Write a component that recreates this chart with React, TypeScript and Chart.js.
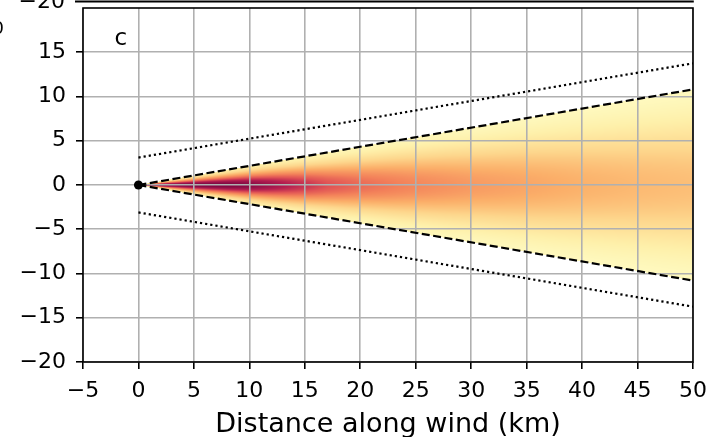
import React, { useEffect, useRef } from "react";
import { Chart, registerables } from "chart.js";

Chart.register(...registerables);

// ---- data ----
const xTickValues = [-5, 0, 5, 10, 15, 20, 25, 30, 35, 40, 45, 50];
const yTickValues = [-20, -15, -10, -5, 0, 5, 10, 15];
const xLimits = [-5, 50];
const yLimits = [-20, 20];

const sourcePoint = [{ x: 0, y: 0 }];
const edgeDistance = [0, 50];
const plumeEdgeUpper = [0, 10.8];
const plumeEdgeLower = [0, -10.8];
const envelopeUpper = [3.1, 13.75];
const envelopeLower = [-3.1, -13.75];

// centre-line concentration level (0..1 of the colour scale) along the wind
const profileDistance = [0, 2, 5, 8, 10, 12, 15, 17, 20, 25, 30, 35, 40, 45, 50];
const profileLevel = [1, 1, 1, 0.99, 0.96, 0.9, 0.8, 0.73, 0.66, 0.58, 0.52, 0.48, 0.44, 0.41, 0.39];
const profileSpread = 0.5; // crosswind sigma as a fraction of the plume half-width

const colormapPositions = [0, 0.15, 0.3, 0.45, 0.6, 0.72, 0.85, 1];
const colormapColors = ["#ffffcc", "#fef0aa", "#fdd68c", "#fbaf69", "#f3825a", "#e15555", "#b41e50", "#780541"];

const panelLabel = "c";
const xTitle = "Distance along wind (km)";

// ---- helpers ----
function interp(xs: number[], ys: number[], x: number): number {
  if (x <= xs[0]) return ys[0];
  if (x >= xs[xs.length - 1]) return ys[ys.length - 1];
  for (let i = 1; i < xs.length; i++) {
    if (x <= xs[i]) {
      const t = (x - xs[i - 1]) / (xs[i] - xs[i - 1]);
      return ys[i - 1] + t * (ys[i] - ys[i - 1]);
    }
  }
  return ys[ys.length - 1];
}
function hexToRgb(h: string) {
  const n = parseInt(h.slice(1), 16);
  return [(n >> 16) & 255, (n >> 8) & 255, n & 255];
}
const cmapRgb = colormapColors.map(hexToRgb);
function cmap(v: number) {
  v = Math.max(0, Math.min(1, v));
  for (let i = 1; i < colormapPositions.length; i++) {
    if (v <= colormapPositions[i]) {
      const t = (v - colormapPositions[i - 1]) / (colormapPositions[i] - colormapPositions[i - 1]);
      const a = cmapRgb[i - 1], b = cmapRgb[i];
      return [a[0] + t * (b[0] - a[0]), a[1] + t * (b[1] - a[1]), a[2] + t * (b[2] - a[2])];
    }
  }
  return cmapRgb[cmapRgb.length - 1];
}
const fmt = (v: number) => (v < 0 ? "\u2212" + Math.abs(v) : String(v));
const FONT = "'DejaVu Sans', sans-serif";

const heatmapPlugin = {
  id: "heatmap",
  beforeDraw(chart: any) {
    const { ctx, chartArea, scales } = chart;
    const xs = scales.x, ys = scales.y;
    const w = Math.round(chartArea.right - chartArea.left);
    const h = Math.round(chartArea.bottom - chartArea.top);
    const off = document.createElement("canvas");
    off.width = w; off.height = h;
    const octx = off.getContext("2d")!;
    const img = octx.createImageData(w, h);
    for (let i = 0; i < w; i++) {
      const xv = xs.getValueForPixel(chartArea.left + i + 0.5);
      if (xv <= 0) continue;
      const hw = interp(edgeDistance, plumeEdgeUpper, xv);
      const lw = interp(edgeDistance, plumeEdgeLower, xv);
      const c = interp(profileDistance, profileLevel, xv);
      const sig = profileSpread * hw;
      for (let j = 0; j < h; j++) {
        const yv = ys.getValueForPixel(chartArea.top + j + 0.5);
        if (yv > hw || yv < lw) continue;
        const lvl = c * Math.exp(-0.5 * (yv / sig) * (yv / sig));
        const col = cmap(lvl);
        const k = (j * w + i) * 4;
        img.data[k] = col[0]; img.data[k + 1] = col[1]; img.data[k + 2] = col[2]; img.data[k + 3] = 255;
      }
    }
    octx.putImageData(img, 0, 0);
    ctx.drawImage(off, chartArea.left, chartArea.top);
  },
  afterDraw(chart: any) {
    const { ctx, chartArea, scales } = chart;
    ctx.save();
    ctx.strokeStyle = "#000";
    ctx.lineWidth = 1.6;
    ctx.strokeRect(chartArea.left, chartArea.top, chartArea.right - chartArea.left, chartArea.bottom - chartArea.top);
    // upper neighbouring panel (cut off)
    ctx.lineWidth = 2;
    ctx.beginPath();
    ctx.moveTo(75, 1.5);
    ctx.lineTo(chartArea.right + 0.8, 1.5);
    ctx.stroke();
    ctx.fillStyle = "#000";
    ctx.font = `22px ${FONT}`;
    ctx.textAlign = "right";
    ctx.textBaseline = "alphabetic";
    ctx.fillText(fmt(-20), 65, 8);
    ctx.font = `18px ${FONT}`;
    ctx.fillText("0", 4, 34);
    // panel label
    ctx.font = `23px ${FONT}`;
    ctx.textAlign = "center";
    ctx.textBaseline = "middle";
    ctx.fillText(panelLabel, scales.x.getPixelForValue(-1.6), scales.y.getPixelForValue(16.5));
    ctx.restore();
  },
};

export default function App() {
  const ref = useRef<HTMLCanvasElement>(null);
  useEffect(() => {
    const toPts = (xs: number[], ys: number[]) => xs.map((x, i) => ({ x, y: ys[i] }));
    const lineDs = (data: any[], dash: number[], width: number) => ({
      type: "scatter" as const,
      data,
      showLine: true,
      borderColor: "#000",
      borderWidth: width,
      borderDash: dash,
      pointRadius: 0,
      fill: false,
    });
    const chart = new Chart(ref.current!, {
      type: "scatter",
      data: {
        datasets: [
          lineDs(toPts(edgeDistance, plumeEdgeUpper), [8, 3.5], 2.2),
          lineDs(toPts(edgeDistance, plumeEdgeLower), [8, 3.5], 2.2),
          lineDs(toPts(edgeDistance, envelopeUpper), [2.2, 3], 2.2),
          lineDs(toPts(edgeDistance, envelopeLower), [2.2, 3], 2.2),
          {
            type: "scatter",
            data: sourcePoint,
            pointRadius: 4.5,
            pointBackgroundColor: "#000",
            pointBorderColor: "#000",
            pointBorderWidth: 0,
          } as any,
        ],
      },
      options: {
        animation: false,
        responsive: false,
        devicePixelRatio: 1,
        layout: { padding: { top: 8, right: 20, left: 0, bottom: 0 } },
        plugins: { legend: { display: false }, tooltip: { enabled: false } },
        scales: {
          x: {
            type: "linear",
            min: xLimits[0],
            max: xLimits[1],
            afterBuildTicks: (s: any) => { s.ticks = xTickValues.map((v) => ({ value: v })); },
            afterFit: (s: any) => { s.height = 75; s.paddingLeft = 0; s.paddingRight = 0; },
            grid: { color: "#b0b0b0", lineWidth: 1.6, tickLength: 7, tickColor: "#000", tickWidth: 1.6 },
            border: { display: false },
            ticks: { color: "#000", font: { family: FONT, size: 22 }, padding: 9, maxRotation: 0, autoSkip: false, callback: (v: any) => fmt(Number(v)) },
            title: { display: true, text: xTitle, color: "#000", font: { family: FONT, size: 27 }, padding: { top: 0, bottom: -4 } },
          },
          y: {
            type: "linear",
            min: yLimits[0],
            max: yLimits[1],
            afterBuildTicks: (s: any) => { s.ticks = yTickValues.map((v) => ({ value: v })); },
            afterFit: (s: any) => { s.width = 83; s.paddingTop = 0; s.paddingBottom = 0; },
            grid: { color: "#b0b0b0", lineWidth: 1.6, tickLength: 7, tickColor: "#000", tickWidth: 1.6 },
            border: { display: false },
            ticks: { color: "#000", font: { family: FONT, size: 22 }, padding: 10, autoSkip: false, callback: (v: any) => fmt(Number(v)) },
          },
        },
      },
      plugins: [heatmapPlugin],
    } as any);
    return () => chart.destroy();
  }, []);
  return (
    <div style={{ position: "absolute", left: 0, top: 0, width: 713, height: 437, background: "#fff" }}>
      <canvas ref={ref} width={713} height={437} style={{ display: "block" }} />
    </div>
  );
}
